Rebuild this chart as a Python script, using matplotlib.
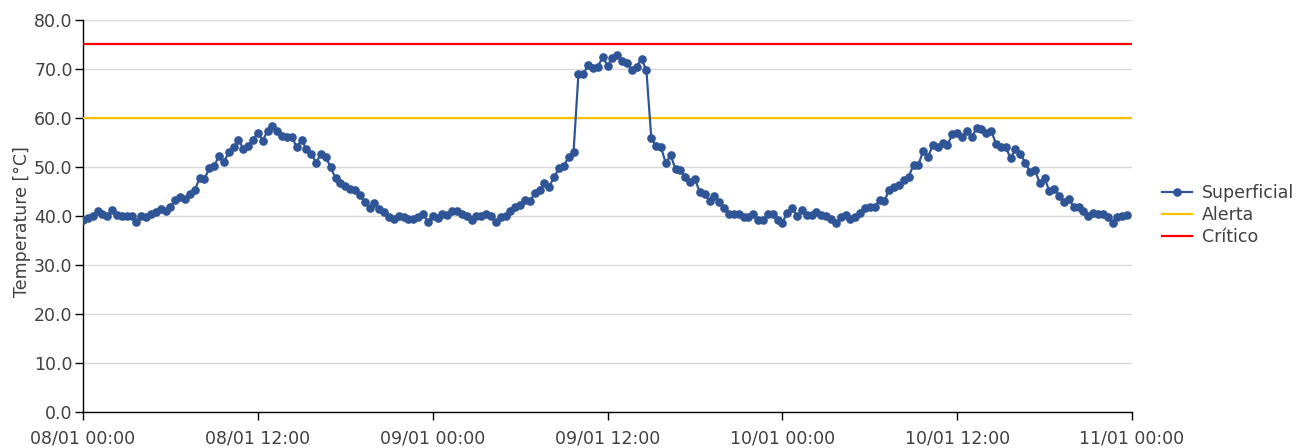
import numpy as np
import pandas as pd
import matplotlib
matplotlib.use("Agg")
import matplotlib.pyplot as plt
import matplotlib.dates as mdates

plt.rcParams["font.family"] = ["DejaVu Sans"]

# lecturas cada 20 minutos, 08/01 00:00 -> 10/01 23:40
inicio = "2024-01-08 00:00"
superficial = [
    39.2, 39.5, 39.9, 41.1, 40.4, 39.9, 41.2, 40.3, 39.9, 39.9,
    40.0, 38.8, 40.0, 39.7, 40.4, 40.9, 41.4, 41.1, 41.8, 43.3,
    43.8, 43.5, 44.4, 45.3, 47.7, 47.6, 49.7, 50.2, 52.3, 51.0,
    53.0, 54.0, 55.6, 53.7, 54.3, 55.6, 57.0, 55.4, 57.4, 58.4,
    57.4, 56.3, 56.2, 56.2, 54.0, 55.5, 53.6, 52.7, 50.9, 52.7,
    52.0, 49.9, 47.7, 46.8, 46.1, 45.6, 45.4, 44.3, 42.9, 41.6,
    42.7, 41.4, 40.9, 39.7, 39.3, 39.9, 39.7, 39.3, 39.3, 39.7,
    40.4, 38.8, 39.9, 39.5, 40.5, 40.2, 41.1, 41.1, 40.4, 40.0,
    39.1, 40.0, 40.0, 40.4, 39.9, 38.8, 39.7, 39.9, 41.1, 41.8,
    42.2, 43.3, 43.1, 44.6, 45.3, 46.8, 46.0, 48.0, 49.7, 50.2,
    52.1, 53.1, 68.9, 68.9, 70.9, 70.2, 70.5, 72.4, 70.7, 72.3,
    72.9, 71.7, 71.2, 69.8, 70.5, 72.1, 69.7, 56.0, 54.2, 54.0,
    50.8, 52.4, 49.5, 49.4, 47.9, 47.0, 47.5, 44.9, 44.5, 43.1,
    44.1, 42.9, 41.6, 40.4, 40.5, 40.5, 39.7, 39.7, 40.4, 39.2,
    39.2, 40.4, 40.4, 39.2, 38.6, 40.7, 41.6, 40.0, 41.2, 40.2,
    40.2, 40.9, 40.2, 40.0, 39.3, 38.6, 39.7, 40.2, 39.3, 39.7,
    40.7, 41.6, 41.8, 41.8, 43.3, 43.1, 45.3, 45.9, 46.3, 47.3,
    48.0, 50.4, 50.4, 53.3, 52.1, 54.5, 54.0, 54.8, 54.5, 56.7,
    57.0, 56.1, 57.4, 56.1, 57.9, 57.7, 56.9, 57.4, 54.7, 54.1,
    54.0, 51.8, 53.6, 52.7, 50.9, 49.0, 49.3, 46.8, 47.7, 45.0,
    45.6, 44.1, 42.9, 43.4, 41.9, 41.8, 41.1, 40.0, 40.7, 40.4,
    40.4, 39.7, 38.6, 39.7, 40.0, 40.2,
]
alerta = 60.0
critico = 75.0
yticks = [0, 10, 20, 30, 40, 50, 60, 70, 80]

fechas = pd.date_range(inicio, periods=len(superficial), freq="20min")
x0 = pd.Timestamp(inicio)
x1 = x0 + pd.Timedelta(hours=72)

fig = plt.figure(figsize=(13.06, 4.48), dpi=100)
ax = fig.add_axes([0.0636, 0.0804, 0.8032, 0.8750])

ax.plot(fechas, superficial, color="#2f5597", lw=1.6, marker="o", ms=5.2,
        label="Superficial", zorder=4)
ax.plot([x0, x1], [alerta, alerta], color="#ffc000", lw=1.6, label="Alerta", zorder=3)
ax.plot([x0, x1], [critico, critico], color="#ff0000", lw=1.6, label="Crítico", zorder=3)

ax.set_xlim(x0, x1)
ax.set_ylim(0, 80)
ax.set_yticks(yticks)
ax.yaxis.set_major_formatter(plt.FormatStrFormatter("%.1f"))
ax.xaxis.set_major_locator(mdates.HourLocator(byhour=[0, 12]))
ax.xaxis.set_major_formatter(mdates.DateFormatter("%d/%m %H:%M"))

ax.grid(axis="y", color="#d9d9d9", lw=1)
ax.set_axisbelow(True)
for s in ["top", "right"]:
    ax.spines[s].set_visible(False)
for s in ["left", "bottom"]:
    ax.spines[s].set_color("black")
    ax.spines[s].set_linewidth(1)
ax.tick_params(axis="both", direction="out", length=6, width=1, color="black",
               labelsize=12.5, labelcolor="#404040")
ax.tick_params(axis="y", pad=1.5)
ax.tick_params(axis="x", pad=6.5)

ax.set_ylabel("Temperature [°C]", fontsize=12.5, color="#404040", labelpad=2)
ax.yaxis.label.set_y(0.487)

ax.legend(loc="center left", bbox_to_anchor=(0.8898, 0.52), bbox_transform=fig.transFigure,
          frameon=False, fontsize=12.5, labelcolor="#404040", handlelength=1.75,
          handletextpad=0.55, labelspacing=0.25, borderaxespad=0, borderpad=0)

fig.savefig("out.png", dpi=100)
